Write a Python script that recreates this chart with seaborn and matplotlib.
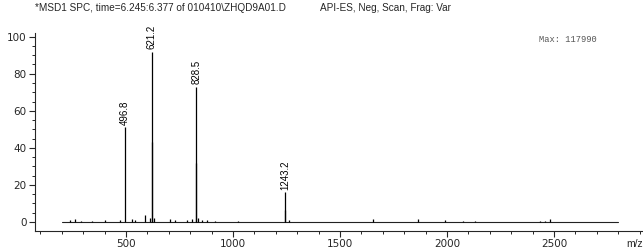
import numpy as np
import pandas as pd
import seaborn as sns
import matplotlib.pyplot as plt
from matplotlib.ticker import MultipleLocator

# spectrum data (m/z, relative abundance %)
peak_mz = [240, 262, 290, 340, 400, 472, 496.8, 528, 542, 589, 612, 621.2, 622.5, 631,
           706, 729, 785, 808, 826.5, 828.5, 836, 855, 878, 916, 1023,
           1243.2, 1244.3, 1260, 1654, 1864, 1990, 2074, 2130, 2434, 2457, 2481]
peak_int = [1.0, 1.7, 0.7, 0.5, 0.8, 1.0, 51, 1.5, 1.0, 4.0, 2.0, 92, 43, 2.0,
            1.5, 1.0, 1.0, 1.5, 32, 73, 2.0, 1.0, 1.0, 0.5, 0.5,
            16, 6.5, 1.0, 1.5, 1.5, 0.8, 0.7, 0.5, 0.7, 0.7, 1.5]
labeled_mz = [496.8, 621.2, 828.5, 1243.2]
baseline_mz = [200, 2800]
baseline_int = [0, 0]

title_left = '*MSD1 SPC, time=6.245:6.377 of 010410\\ZHQD9A01.D'
title_right = 'API-ES, Neg, Scan, Frag: Var'
max_text = 'Max: 117990'

sns.set_style('ticks')
plt.rcParams['font.family'] = ['Liberation Sans', 'DejaVu Sans']

spec = pd.DataFrame({'mz': peak_mz, 'intensity': peak_int})
base = pd.DataFrame({'mz': baseline_mz, 'intensity': baseline_int})

fig = plt.figure(figsize=(6.43, 2.49), dpi=100)
ax = fig.add_axes([35 / 643, 18 / 249, 608 / 643, 198 / 249])

sns.lineplot(data=base, x='mz', y='intensity', color='#222222', lw=0.8, ax=ax)
ax.vlines(spec['mz'], 0, spec['intensity'], color='black', lw=0.9)

for mz in labeled_mz:
    h = spec.loc[spec['mz'] == mz, 'intensity'].iloc[0]
    ax.text(mz, h + 1.5, f'{mz:.1f}', rotation=90, ha='center', va='bottom',
            fontsize=7, color='black')

ax.set_xlim(75, 2916)
ax.set_ylim(-4.9, 102)
ax.xaxis.set_major_locator(MultipleLocator(500))
ax.xaxis.set_minor_locator(MultipleLocator(100))
ax.yaxis.set_major_locator(MultipleLocator(20))
ax.yaxis.set_minor_locator(MultipleLocator(5))
ax.tick_params(which='major', length=4, width=0.8, labelsize=7.5, pad=2)
ax.tick_params(which='minor', length=2.5, width=0.7)
for lab in ax.get_xticklabels() + ax.get_yticklabels():
    lab.set_family('DejaVu Sans')
ax.set_xlabel('')
ax.set_ylabel('')
sns.despine(ax=ax)
for s in ['left', 'bottom']:
    ax.spines[s].set_linewidth(0.8)

fig.text(35 / 643, 1 - 8 / 249, title_left, fontsize=7.2, va='center')
fig.text(320 / 643, 1 - 8 / 249, title_right, fontsize=7.2, va='center')
fig.text(539 / 643, 1 - 40 / 249, max_text, fontsize=6.3, va='center',
         family='Liberation Mono', color='#555555')
fig.text(626 / 643, 1 - 244 / 249, 'm/z', fontsize=7.5, va='center')

fig.savefig('out.png', dpi=100)
